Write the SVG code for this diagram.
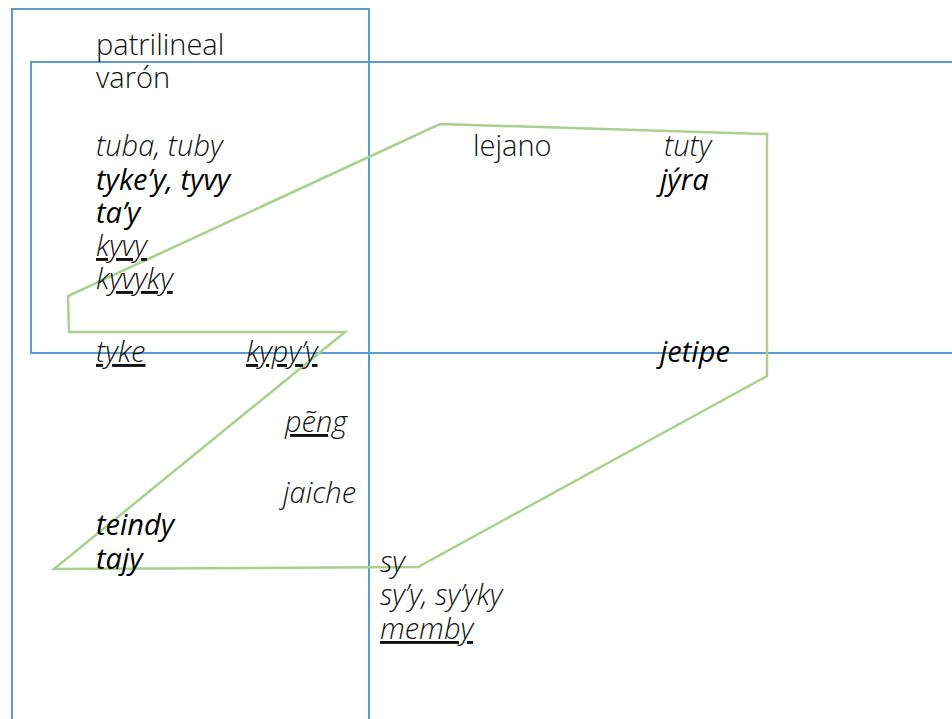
<svg xmlns="http://www.w3.org/2000/svg" width="952" height="719" viewBox="0 0 952 719">
  <style>
    text { font-family: "Open Sans", "Noto Sans", "Liberation Sans", sans-serif; font-size: 29px; fill: #111; font-weight: 300; }
    .i { font-style: italic; }
    .b { font-style: italic; font-weight: 400; fill: #000; }
    .u { text-decoration: underline; }
    .box { fill: none; stroke: #5b9bd5; stroke-width: 2; }
    .zone { fill: none; stroke: #a9d18e; stroke-width: 2.5; stroke-linejoin: miter; }
  </style>
  <rect width="952" height="719" fill="#fff"/>

  <g id="frames">
    <rect id="patrilineal-box" class="box" x="12" y="9" width="357" height="720"/>
    <rect id="varon-box" class="box" x="31" y="62" width="930" height="291"/>
  </g>

  <g id="connectors">
    <polygon id="lejano-zone" class="zone" points="440,124 767,134 767,376 418,567 54,569 345,332 69,332 68,296"/>
  </g>

  <g id="labels">
    <text x="96" y="55">patrilineal</text>
    <text x="96" y="88">varón</text>
    <text x="473" y="156">lejano</text>
  </g>

  <g id="terms">
    <text class="i" x="96" y="156">tuba, tuby</text>
    <text class="b" x="96" y="190">tyke’y, tyvy</text>
    <text class="b" x="96" y="223">ta’y</text>
    <text class="i u" x="96" y="256">kyvy</text>
    <text class="i" x="96" y="289">k<tspan class="u">yvyky</tspan></text>
    <text class="i u" x="96" y="362">tyke</text>
    <text class="i u" x="246" y="362">kypy’y</text>
    <text class="i u" x="285" y="432">pẽng</text>
    <text class="i" x="283" y="503">jaiche</text>
    <text class="b" x="96" y="535">teindy</text>
    <text class="b" x="96" y="569">tajy</text>
    <text class="i" x="380" y="572">sy</text>
    <text class="i" x="380" y="605">sy’y, sy’yky</text>
    <text class="i u" x="380" y="639">memby</text>
    <text class="i" x="664" y="156">tuty</text>
    <text class="b" x="660" y="190">jýra</text>
    <text class="b" x="660" y="362">jetipe</text>
  </g>
</svg>
